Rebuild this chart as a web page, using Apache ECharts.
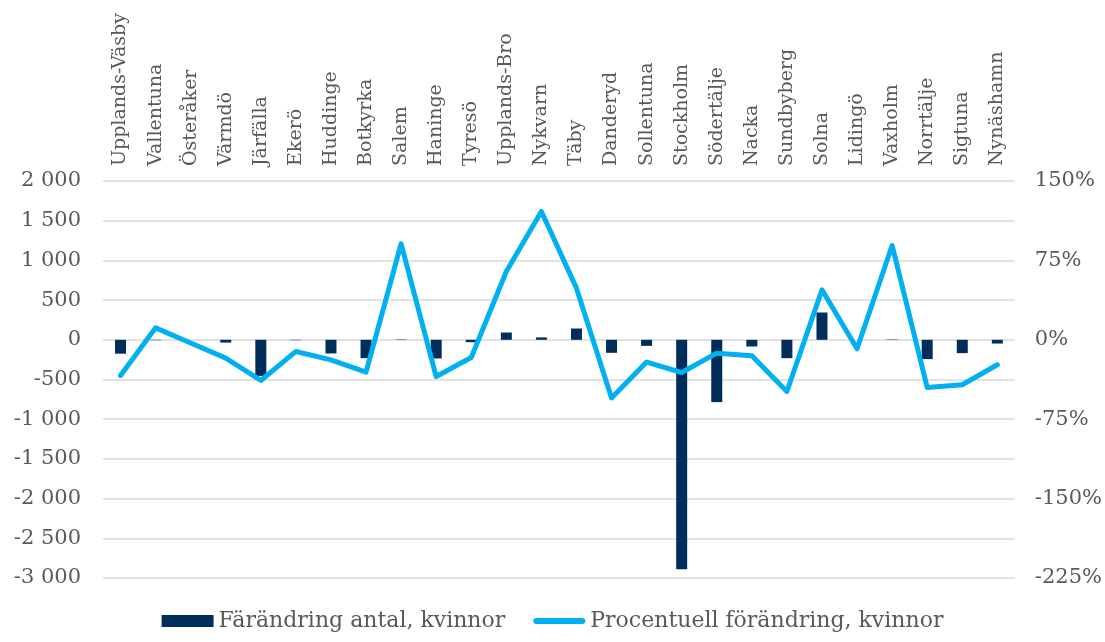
<!DOCTYPE html>
<html>
<head>
<meta charset="utf-8">
<script src="https://cdn.jsdelivr.net/npm/echarts@6/dist/echarts.min.js"></script>
<style>
html,body{margin:0;padding:0;background:#fff;}
#chart{width:1105px;height:642px;}
</style>
</head>
<body>
<div id="chart"></div>
<script>
var kommuner = ['Upplands-Väsby','Vallentuna','Österåker','Värmdö','Järfälla','Ekerö','Huddinge','Botkyrka','Salem','Haninge','Tyresö','Upplands-Bro','Nykvarn','Täby','Danderyd','Sollentuna','Stockholm','Södertälje','Nacka','Sundbyberg','Solna','Lidingö','Vaxholm','Norrtälje','Sigtuna','Nynäshamn'];
var antal = [-175, -5, 0, -35, -455, -5, -172, -231, 5, -235, -30, 92, 30, 142, -164, -76, -2890, -785, -84, -231, 344, 0, 5, -243, -168, -47];
var procent = [-33.7, 11.3, -3, -17.3, -38.4, -11, -18.9, -30.5, 90.7, -34.7, -16.7, 64.5, 121.2, 48.8, -55, -21, -30.9, -12.6, -15.1, -48.8, 47.2, -8.5, 89.1, -45, -42.5, -23.6];
var serieNamn = ['Färändring antal, kvinnor', 'Procentuell förändring, kvinnor'];

var font = 'DejaVu Serif';
var txt = '#595959';

// tusental med mellanslag, t.ex. -1 000
function tusen(v) {
	var s = String(Math.abs(v)).replace(/\B(?=(\d{3})+(?!\d))/g, ' ');
	return (v < 0 ? '-' : '') + s;
}

var myChart = echarts.init(document.getElementById('chart'));
myChart.setOption({
	animation: false,
	backgroundColor: '#fff',
	textStyle: { fontFamily: font, color: txt },
	grid: { left: 103, right: 88, top: 181, bottom: 64 },
	legend: {
		top: 610,
		padding: 0,
		itemGap: 28,
		itemWidth: 52,
		itemHeight: 12,
		textStyle: { fontFamily: font, fontSize: 22, color: txt },
		data: [
			{ name: serieNamn[0], icon: 'rect' },
			{ name: serieNamn[1], icon: 'path://M0,0 M0,12 M3,3 L49,3 A3,3 0 0 1 49,9 L3,9 A3,3 0 0 1 3,3 Z' }
		]
	},
	xAxis: {
		type: 'category',
		position: 'top',
		data: kommuner,
		axisLine: { show: false },
		axisTick: { show: false },
		axisLabel: {
			rotate: 90,
			interval: 0,
			margin: 15,
			fontFamily: font,
			fontSize: 19,
			color: txt
		}
	},
	yAxis: [
		{
			type: 'value',
			min: -3000,
			max: 2000,
			interval: 500,
			axisLine: { show: false },
			axisTick: { show: false },
			splitLine: { lineStyle: { color: '#d9d9d9', width: 1.5 } },
			axisLabel: {
				margin: 22,
				fontFamily: font,
				fontSize: 21,
				color: txt,
				formatter: tusen
			}
		},
		{
			type: 'value',
			min: -225,
			max: 150,
			interval: 75,
			axisLine: { show: false },
			axisTick: { show: false },
			splitLine: { show: false },
			axisLabel: {
				margin: 20,
				fontFamily: font,
				fontSize: 21,
				color: txt,
				formatter: '{value}%'
			}
		}
	],
	series: [
		{
			name: serieNamn[0],
			type: 'bar',
			yAxisIndex: 0,
			data: antal,
			barWidth: 11,
			itemStyle: { color: '#002D5A' }
		},
		{
			name: serieNamn[1],
			type: 'line',
			yAxisIndex: 1,
			data: procent,
			symbol: 'none',
			z: 5,
			itemStyle: { color: '#00B0F0' },
			lineStyle: { color: '#00B0F0', width: 5, cap: 'round', join: 'round' }
		}
	]
});
</script>
</body>
</html>
